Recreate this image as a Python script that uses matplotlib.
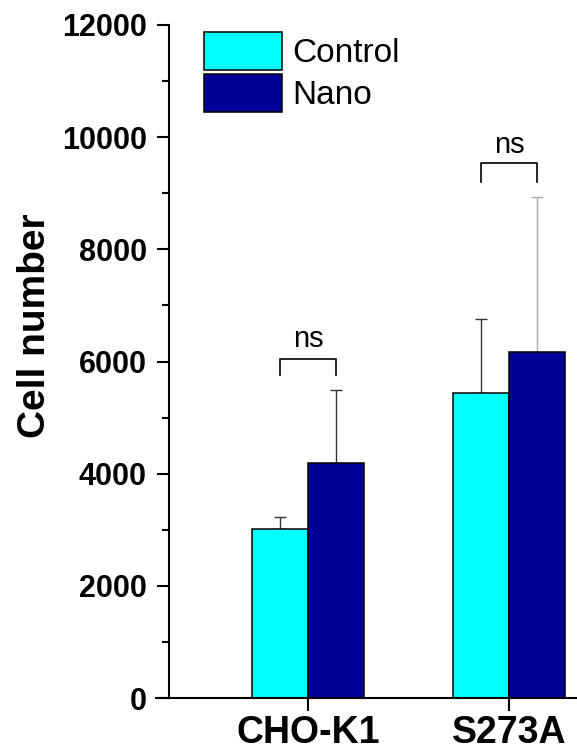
import matplotlib
matplotlib.use("Agg")
import matplotlib.pyplot as plt
from matplotlib.ticker import MultipleLocator

plt.rcParams['font.family'] = ['Liberation Sans', 'DejaVu Sans']

# Data
groups = ['CHO-K1', 'S273A']
series = ['Control', 'Nano']
control_mean = [3010, 5440]
control_err = [220, 1310]
nano_mean = [4190, 6170]
nano_err = [1300, 2770]
bracket_low = [5760, 9200]
bracket_high = [6050, 9540]
ns_y = [6400, 9860]

colors = ['#00FFFF', '#000099']

fig = plt.figure(figsize=(5.77, 7.51), dpi=100)
ax = fig.add_axes([156 / 577, 1 - 698 / 751, 421 / 577, 673 / 751])

centers = [1, 2]
w = 0.279

ax.bar([c - w / 2 for c in centers], control_mean, width=w, color=colors[0],
       edgecolor='black', linewidth=1.1, label=series[0], zorder=2)
ax.bar([c + w / 2 for c in centers], nano_mean, width=w, color=colors[1],
       edgecolor='black', linewidth=1.1, label=series[1], zorder=2)

# Upper error bars only
err_colors_c = ['#333333', '#333333']
err_colors_n = ['#333333', '#aaaaaa']
for i, c in enumerate(centers):
    ax.errorbar(c - w / 2, control_mean[i], yerr=[[0], [control_err[i]]], fmt='none',
                ecolor=err_colors_c[i], elinewidth=1, capsize=4, capthick=1, zorder=1)
    ax.errorbar(c + w / 2, nano_mean[i], yerr=[[0], [nano_err[i]]], fmt='none',
                ecolor=err_colors_n[i], elinewidth=1, capsize=4, capthick=1, zorder=1)

# Significance brackets
for i, c in enumerate(centers):
    x0, x1 = c - w / 2, c + w / 2
    ax.plot([x0, x0, x1, x1], [bracket_low[i], bracket_high[i], bracket_high[i], bracket_low[i]],
            color='black', linewidth=1.2, zorder=3)
    ax.text(c, ns_y[i], 'ns', ha='center', va='center', fontsize=21)

ax.set_ylim(0, 12000)
ax.set_xlim(1 - 152 / 201, 2 + 68 / 201)

ax.spines['top'].set_visible(False)
ax.spines['right'].set_visible(False)
ax.spines['left'].set_position(('data', 1 - 139 / 201))
ax.spines['left'].set_linewidth(1.5)
ax.spines['bottom'].set_linewidth(1.5)

ax.yaxis.set_major_locator(MultipleLocator(2000))
ax.yaxis.set_minor_locator(MultipleLocator(1000))
ax.tick_params(axis='y', which='major', direction='out', length=9, width=1.5, labelsize=22, pad=7)
ax.tick_params(axis='y', which='minor', direction='out', length=5, width=1.5)
for lbl in ax.get_yticklabels():
    lbl.set_fontweight('bold')

ax.set_xticks(centers)
ax.set_xticklabels(groups, fontsize=27, fontweight='bold')
ax.tick_params(axis='x', which='major', direction='out', length=9, width=1.5, pad=3)

ax.set_ylabel('Cell number', fontsize=28, fontweight='bold')
ax.yaxis.set_label_coords(-0.245, (698 - 326) / 673)

leg = ax.legend(loc='upper left', bbox_to_anchor=(204 / 577, 1 - 32 / 751),
                bbox_transform=fig.transFigure, frameon=False, fontsize=24,
                handlelength=2.34, handleheight=1.38, handletextpad=0.3,
                labelspacing=0.12, borderpad=0, borderaxespad=0)

fig.savefig('out.png', dpi=100)
